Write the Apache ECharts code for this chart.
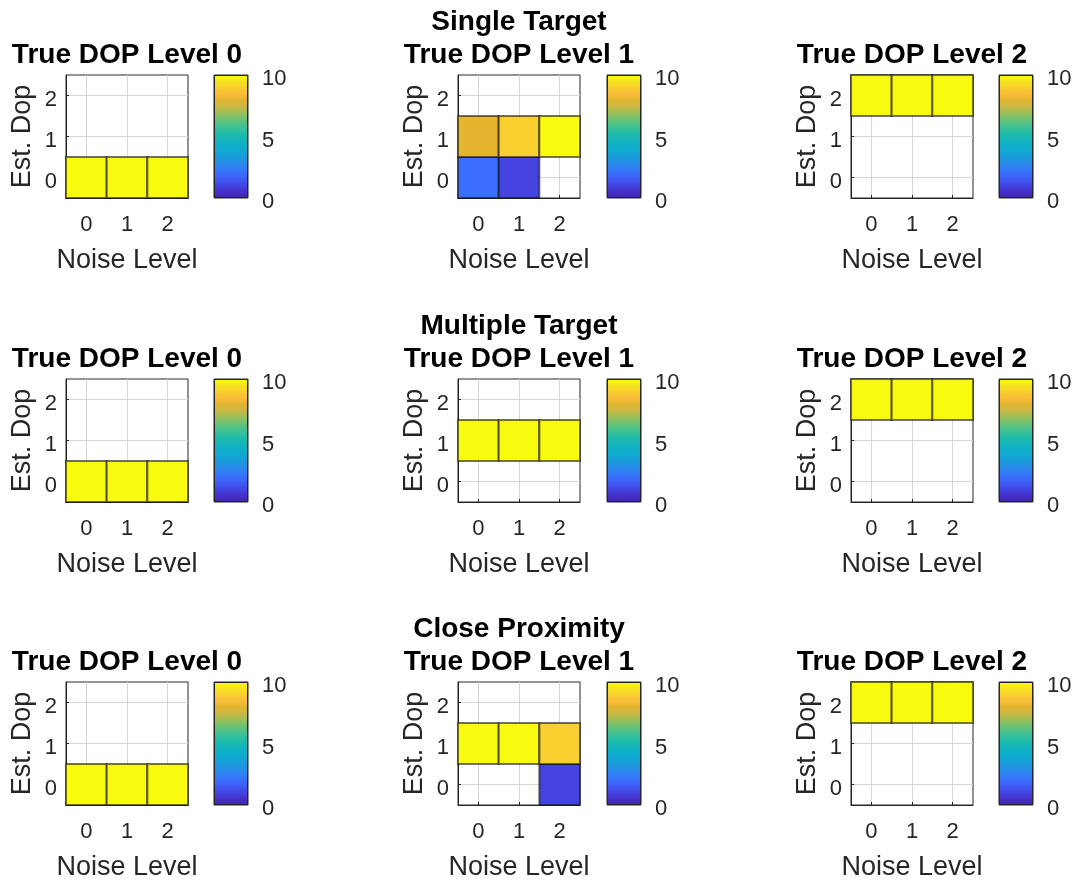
<!DOCTYPE html>
<html><head><meta charset="utf-8">
<script src="https://cdn.jsdelivr.net/npm/echarts@6/dist/echarts.min.js"></script>
<style>html,body{margin:0;padding:0;background:#fff}#c{width:1075px;height:882px}</style>
</head><body><div id="c"></div>
<script>
// ---------- data ----------
const noiseLevels = [0, 1, 2];
const estDopLevels = [0, 1, 2];
const trueDopLevels = [0, 1, 2];
const scenarioTitles = ['Single Target', 'Multiple Target', 'Close Proximity'];
const colorbarTicks = [0, 5, 10];
const colorRange = [0, 10];
// counts[estDopIndex][noiseIndex]; 0 = empty (white) cell
const singleDop0 = [[10, 10, 10], [0, 0, 0], [0, 0, 0]];
const singleDop1 = [[2, 1, 0], [8, 9, 10], [0, 0, 0]];
const singleDop2 = [[0, 0, 0], [0, 0, 0], [10, 10, 10]];
const multipleDop0 = [[10, 10, 10], [0, 0, 0], [0, 0, 0]];
const multipleDop1 = [[0, 0, 0], [10, 10, 10], [0, 0, 0]];
const multipleDop2 = [[0, 0, 0], [0, 0, 0], [10, 10, 10]];
const closeDop0 = [[10, 10, 10], [0, 0, 0], [0, 0, 0]];
const closeDop1 = [[0, 0, 1], [10, 10, 9], [0, 0, 0]];
const closeDop2 = [[0, 0, 0], [0, 0, 0], [10, 10, 10]];
const panels = [
  [singleDop0, singleDop1, singleDop2],
  [multipleDop0, multipleDop1, multipleDop2],
  [closeDop0, closeDop1, closeDop2]
];
const parula = ['#3E26A8','#4530CA','#4343E0','#4058F2','#3A6EFC','#2F80F3','#2491E3','#17A0D9',
  '#0FAACF','#10B2C2','#19B8B3','#2EBE9F','#4DC28A','#76C26E','#A5BE55','#CDB842',
  '#E5B530','#FBBD3A','#F9D030','#F6E41E','#F9FB0E'];

// ---------- layout ----------
const FONT = '"Liberation Sans", Arial, Helvetica, sans-serif';
const colLeft = [66, 458, 851], cbLeft = [214, 607, 999], rowTop = [75, 379, 682];
const PW = 122, PH = 123, CBW = 34;
const TXT = '#262626';

const grid = [], xAxis = [], yAxis = [], series = [], graphic = [];
const heatSeriesIdx = [];
const gradient = {
  type: 'linear', x: 0, y: 1, x2: 0, y2: 0,
  colorStops: parula.map((c, i) => ({ offset: i / (parula.length - 1), color: c }))
};

function renderCell(params, api) {
  const v = api.value(2);
  if (!v) return;
  const x = api.value(0), y = api.value(1);
  const p0 = api.coord([x - 0.5, y + 0.5]);
  const p1 = api.coord([x + 0.5, y - 0.5]);
  return {
    type: 'rect',
    shape: { x: p0[0], y: p0[1], width: p1[0] - p0[0], height: p1[1] - p0[1] },
    style: { fill: api.visual('color'), stroke: 'rgba(20,20,20,0.6)', lineWidth: 2 }
  };
}

function titleText(text, x, y) {
  return {
    type: 'text', x: x, y: y, z: 100,
    style: { text: text, font: 'bold 28px ' + FONT, fill: '#000',
      textAlign: 'center', textVerticalAlign: 'middle', align: 'center', verticalAlign: 'middle' }
  };
}

for (let r = 0; r < 3; r++) {
  graphic.push(titleText(scenarioTitles[r], colLeft[1] + PW / 2, rowTop[r] - 53));
  for (let c = 0; c < 3; c++) {
    const gi = grid.length;
    grid.push({ left: colLeft[c], top: rowTop[r], width: PW, height: PH, show: true,
      borderColor: TXT, borderWidth: 1, backgroundColor: '#fff' });
    xAxis.push({
      gridIndex: gi, type: 'value', min: -0.5, max: 2.5,
      axisLine: { show: true, onZero: false, lineStyle: { color: TXT } },
      axisTick: { show: true, inside: true, length: 3, customValues: noiseLevels, lineStyle: { color: TXT } },
      axisLabel: { customValues: noiseLevels, fontSize: 22, color: TXT, fontFamily: FONT, margin: 16 },
      splitLine: { show: true, lineStyle: { color: '#d6d6d6', width: 1 } },
      name: 'Noise Level', nameLocation: 'middle', nameGap: 49,
      nameTextStyle: { fontSize: 27, color: TXT, fontFamily: FONT }
    });
    yAxis.push({
      gridIndex: gi, type: 'value', min: -0.5, max: 2.5,
      axisLine: { show: true, onZero: false, lineStyle: { color: TXT } },
      axisTick: { show: true, inside: true, length: 3, customValues: estDopLevels, lineStyle: { color: TXT } },
      axisLabel: { customValues: estDopLevels, fontSize: 22, color: TXT, fontFamily: FONT, margin: 9,
        verticalAlign: 'top', lineHeight: 9 },
      splitLine: { show: true, lineStyle: { color: '#d6d6d6', width: 1 } },
      name: 'Est. Dop', nameLocation: 'middle', nameGap: 30, nameRotate: 90,
      nameTextStyle: { fontSize: 27, color: TXT, fontFamily: FONT }
    });
    const m = panels[r][c];
    const data = [];
    estDopLevels.forEach((e, ei) => noiseLevels.forEach((n, ni) => data.push([n, e, m[ei][ni]])));
    heatSeriesIdx.push(series.length);
    series.push({ type: 'custom', xAxisIndex: gi, yAxisIndex: gi, renderItem: renderCell,
      data: data, encode: { x: 0, y: 1 }, silent: true, clip: false, z: 3 });
    graphic.push(titleText('True DOP Level ' + trueDopLevels[c], colLeft[c] + PW / 2, rowTop[r] - 20));
  }
}
// colorbars
for (let r = 0; r < 3; r++) {
  for (let c = 0; c < 3; c++) {
    const gi = grid.length;
    grid.push({ left: cbLeft[c], top: rowTop[r], width: CBW, height: PH, show: true,
      borderColor: TXT, borderWidth: 1, backgroundColor: '#fff' });
    xAxis.push({ gridIndex: gi, type: 'category', data: ['cb'], show: false });
    yAxis.push({
      gridIndex: gi, type: 'value', min: colorRange[0], max: colorRange[1], position: 'right',
      axisLine: { show: false },
      axisTick: { show: false, customValues: colorbarTicks },
      axisLabel: { customValues: colorbarTicks, fontSize: 22, color: TXT, fontFamily: FONT, margin: 14,
        verticalAlign: 'top', lineHeight: 8 },
      splitLine: { show: false }
    });
    series.push({ type: 'bar', xAxisIndex: gi, yAxisIndex: gi, data: [colorRange[1]], barWidth: '100%',
      silent: true, itemStyle: { color: gradient, borderColor: TXT, borderWidth: 1 } });
  }
}

const chart = echarts.init(document.getElementById('c'), null, { renderer: 'canvas' });
chart.setOption({
  animation: false,
  backgroundColor: '#fff',
  grid, xAxis, yAxis, series, graphic,
  visualMap: {
    type: 'continuous', show: false, min: colorRange[0], max: colorRange[1], dimension: 2,
    seriesIndex: heatSeriesIdx, inRange: { color: parula }
  }
});
</script></body></html>
